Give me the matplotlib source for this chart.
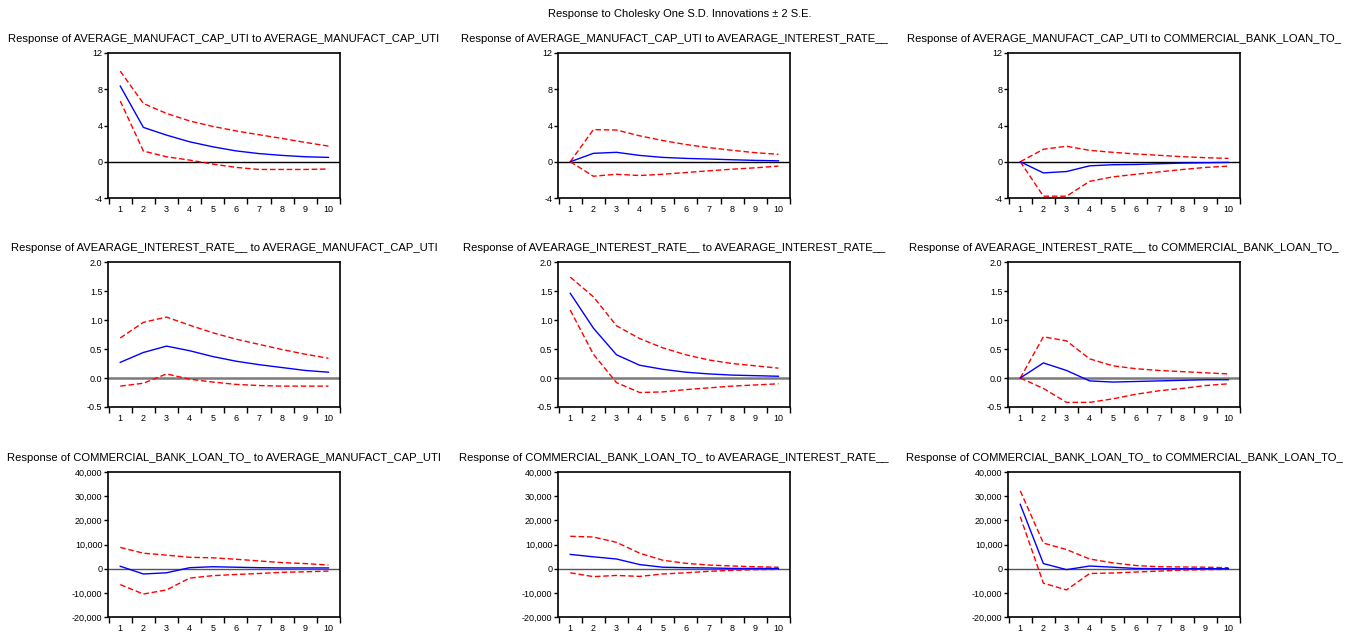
import matplotlib
matplotlib.use('Agg')
import matplotlib.pyplot as plt
import matplotlib.ticker as mticker
import numpy as np

plt.rcParams['font.family'] = ['Liberation Sans', 'DejaVu Sans']
plt.rcParams['axes.unicode_minus'] = False

periods = [1, 2, 3, 4, 5, 6, 7, 8, 9, 10]

manuf = 'AVERAGE_MANUFACT_CAP_UTI'
rate = 'AVEARAGE_INTEREST_RATE__'
loan = 'COMMERCIAL_BANK_LOAN_TO_'
variables = [manuf, rate, loan]

# responses of manufacturing capacity utilisation
m_m = [8.35, 3.79, 2.94, 2.2, 1.65, 1.2, 0.9, 0.7, 0.55, 0.48]
m_m_hi = [10.0, 6.43, 5.33, 4.5, 3.9, 3.4, 2.98, 2.57, 2.13, 1.73]
m_m_lo = [6.7, 1.18, 0.55, 0.18, -0.26, -0.62, -0.85, -0.85, -0.85, -0.8]
m_r = [0.0, 0.93, 1.04, 0.7, 0.48, 0.37, 0.3, 0.22, 0.15, 0.1]
m_r_hi = [0.0, 3.55, 3.5, 2.86, 2.34, 1.9, 1.56, 1.26, 1.0, 0.82]
m_r_lo = [0.0, -1.6, -1.38, -1.52, -1.38, -1.19, -1.0, -0.82, -0.67, -0.48]
m_l = [0.0, -1.23, -1.08, -0.45, -0.33, -0.3, -0.22, -0.15, -0.11, -0.07]
m_l_hi = [0.0, 1.38, 1.71, 1.26, 1.04, 0.86, 0.71, 0.56, 0.45, 0.37]
m_l_lo = [0.0, -3.8, -3.8, -2.16, -1.67, -1.38, -1.12, -0.86, -0.63, -0.48]

# responses of interest rate
r_m = [0.27, 0.44, 0.55, 0.47, 0.37, 0.29, 0.23, 0.18, 0.13, 0.10]
r_m_hi = [0.69, 0.96, 1.05, 0.91, 0.78, 0.67, 0.58, 0.49, 0.41, 0.34]
r_m_lo = [-0.14, -0.09, 0.07, -0.02, -0.07, -0.11, -0.13, -0.14, -0.14, -0.14]
r_r = [1.46, 0.86, 0.40, 0.22, 0.15, 0.10, 0.07, 0.05, 0.04, 0.03]
r_r_hi = [1.74, 1.40, 0.90, 0.68, 0.52, 0.40, 0.31, 0.25, 0.21, 0.17]
r_r_lo = [1.17, 0.41, -0.08, -0.25, -0.24, -0.20, -0.17, -0.14, -0.12, -0.10]
r_l = [0.0, 0.26, 0.13, -0.05, -0.07, -0.06, -0.05, -0.04, -0.03, -0.03]
r_l_hi = [0.0, 0.71, 0.64, 0.33, 0.21, 0.16, 0.13, 0.11, 0.09, 0.07]
r_l_lo = [0.0, -0.18, -0.42, -0.42, -0.36, -0.28, -0.22, -0.18, -0.13, -0.10]

# responses of commercial bank loans
l_m = [1000, -2200, -1700, 400, 800, 600, 400, 300, 300, 300]
l_m_hi = [8800, 6400, 5600, 4700, 4500, 3900, 3200, 2500, 2100, 1500]
l_m_lo = [-6600, -10500, -8800, -3900, -2900, -2400, -2000, -1500, -1300, -1000]
l_r = [5900, 4900, 4000, 1700, 600, 400, 300, 100, 100, 100]
l_r_hi = [13400, 13100, 10900, 6400, 3500, 2200, 1500, 1100, 800, 600]
l_r_lo = [-1700, -3300, -2800, -3200, -2200, -1700, -1100, -700, -400, -300]
l_l = [26600, 2100, -400, 1100, 600, 100, 0, 0, 0, 0]
l_l_hi = [32200, 10600, 7900, 4000, 2400, 1300, 800, 700, 600, 400]
l_l_lo = [21500, -6000, -8800, -2000, -1800, -1400, -1000, -600, -400, -300]

responses = [
    [(m_m, m_m_hi, m_m_lo), (m_r, m_r_hi, m_r_lo), (m_l, m_l_hi, m_l_lo)],
    [(r_m, r_m_hi, r_m_lo), (r_r, r_r_hi, r_r_lo), (r_l, r_l_hi, r_l_lo)],
    [(l_m, l_m_hi, l_m_lo), (l_r, l_r_hi, l_r_lo), (l_l, l_l_hi, l_l_lo)],
]

ylims = [(-4, 12), (-0.5, 2.0), (-20000, 40000)]
yticks = [[-4, 0, 4, 8, 12],
          [-0.5, 0.0, 0.5, 1.0, 1.5, 2.0],
          [-20000, -10000, 0, 10000, 20000, 30000, 40000]]
yfmt = ['{x:.0f}', '{x:.1f}', '{x:,.0f}']
zero_style = [('black', 1.0), ('#7a7a7a', 1.8), ('#555555', 1.0)]

W, H = 1360, 633
fig = plt.figure(figsize=(W / 100, H / 100), dpi=100)
fig.text(680 / W, 1 - 14 / H, 'Response to Cholesky One S.D. Innovations \u00b1 2 S.E.',
         ha='center', va='center', fontsize=8)

col_left = [108, 558, 1008]
row_top = [53, 262, 472]
ax_w, ax_h = 232, 145

for i in range(3):
    for j in range(3):
        ax = fig.add_axes([col_left[j] / W, 1 - (row_top[i] + ax_h) / H, ax_w / W, ax_h / H])
        mid, hi, lo = responses[i][j]
        ax.axhline(0, color=zero_style[i][0], lw=zero_style[i][1], zorder=1)
        ax.plot(periods, hi, color='red', lw=1, ls=(0, (4, 2)), zorder=2)
        ax.plot(periods, lo, color='red', lw=1, ls=(0, (4, 2)), zorder=2)
        ax.plot(periods, mid, color='blue', lw=1, zorder=3)
        ax.set_xlim(0.47, 10.47)
        ax.set_ylim(*ylims[i])
        ax.set_yticks(yticks[i])
        ax.yaxis.set_major_formatter(mticker.StrMethodFormatter(yfmt[i]))
        ax.set_xticks(np.arange(0.5, 11, 1.0))
        ax.set_xticklabels([])
        ax.set_xticks(periods, minor=True)
        ax.set_xticklabels([str(p) for p in periods], minor=True)
        ax.tick_params(axis='x', which='major', direction='out', length=4, width=1)
        ax.tick_params(axis='x', which='minor', length=0, pad=5, labelsize=6.5)
        ax.tick_params(axis='y', direction='out', length=3, width=1, pad=1, labelsize=6.5)
        for s in ax.spines.values():
            s.set_linewidth(1.2)
        ax.set_title('Response of %s to %s' % (variables[i], variables[j]),
                     fontsize=8.1, pad=8)

fig.savefig('out.png', dpi=100)
